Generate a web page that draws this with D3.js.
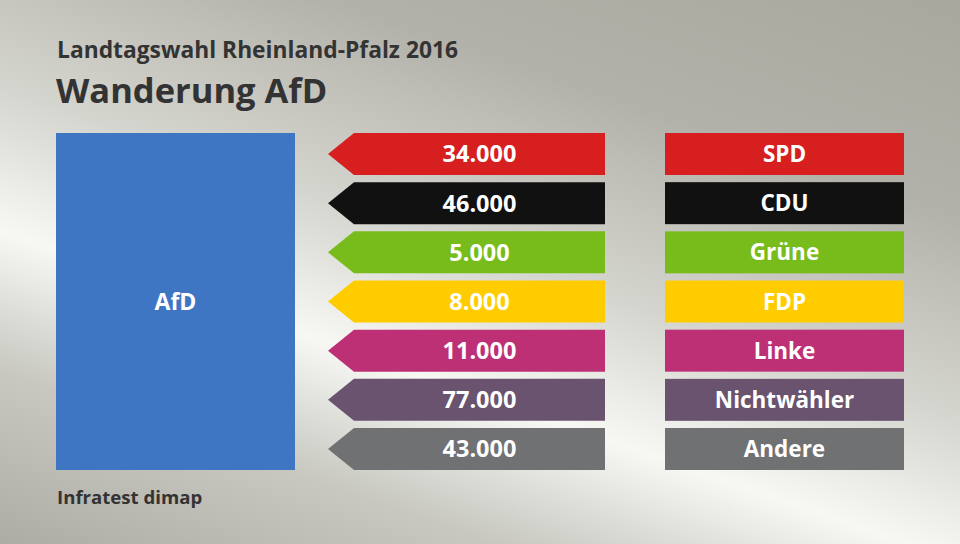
<!DOCTYPE html>
<html>
<head>
<meta charset="utf-8">
<script src="https://cdn.jsdelivr.net/npm/d3@7"></script>
<style>
  body { margin: 0; padding: 0; }
  svg { display: block; font-family: "Open Sans", "Noto Sans", sans-serif; }
</style>
</head>
<body>
<script>
var parties = ["SPD", "CDU", "Grüne", "FDP", "Linke", "Nichtwähler", "Andere"];
var values = [34000, 46000, 5000, 8000, 11000, 77000, 43000];
var colors = ["#d81f1f", "#111111", "#78bc1b", "#ffcc00", "#be3075", "#6a536f", "#707173"];
var target = "AfD";

var width = 960, height = 544;

var svg = d3.select("body").append("svg")
    .attr("width", width)
    .attr("height", height);

// diagonal light band across a grey background
var defs = svg.append("defs");
var grad = defs.append("linearGradient")
    .attr("id", "bg")
    .attr("gradientUnits", "userSpaceOnUse")
    .attr("x1", 337).attr("y1", 663)
    .attr("x2", 608).attr("y2", -121);
[[0, "#adaca4"], [0.2, "#c8c8c1"], [0.36, "#f7f7f4"], [0.52, "#d6d6d0"], [0.75, "#b3b2aa"], [1, "#a9a89f"]]
    .forEach(function (s) {
        grad.append("stop").attr("offset", s[0]).attr("stop-color", s[1]);
    });

svg.append("rect").attr("width", width).attr("height", height).attr("fill", "url(#bg)");

var fmt = d3.formatLocale({decimal: ",", thousands: ".", grouping: [3], currency: ["", "€"]}).format(",d");

var y = d3.scaleBand()
    .domain(parties)
    .range([133, 470])
    .paddingInner(0.146);

var bw = y.bandwidth();

// target box
svg.append("rect")
    .attr("x", 56).attr("y", 133)
    .attr("width", 239).attr("height", 337)
    .attr("fill", "#3e76c4");
svg.append("text")
    .attr("x", 56 + 239 / 2).attr("y", 302)
    .attr("dy", "0.36em")
    .attr("text-anchor", "middle")
    .attr("fill", "#fff")
    .attr("font-weight", "bold")
    .attr("font-size", 23)
    .text(target);

var tipX = 328, bodyX = 354, bodyEnd = 605;

var rows = svg.selectAll("g.row")
    .data(parties)
    .enter().append("g")
    .attr("class", "row")
    .attr("transform", function (d) { return "translate(0," + y(d) + ")"; });

rows.append("path")
    .attr("d", "M" + tipX + "," + bw / 2 + "L" + bodyX + ",0H" + bodyEnd + "V" + bw + "H" + bodyX + "Z")
    .attr("fill", function (d, i) { return colors[i]; });

rows.append("text")
    .attr("x", (bodyX + bodyEnd) / 2)
    .attr("y", bw / 2)
    .attr("dy", "0.36em")
    .attr("text-anchor", "middle")
    .attr("fill", "#fff")
    .attr("font-weight", "bold")
    .attr("font-size", 23.5)
    .text(function (d, i) { return fmt(values[i]); });

rows.append("rect")
    .attr("x", 665).attr("y", 0)
    .attr("width", 239).attr("height", bw)
    .attr("fill", function (d, i) { return colors[i]; });

rows.append("text")
    .attr("x", 665 + 239 / 2)
    .attr("y", bw / 2)
    .attr("dy", "0.36em")
    .attr("text-anchor", "middle")
    .attr("fill", "#fff")
    .attr("font-weight", "bold")
    .attr("font-size", 22.5)
    .text(function (d) { return d; });

// titles
svg.append("text")
    .attr("x", 57).attr("y", 58)
    .attr("fill", "#333")
    .attr("font-weight", "bold")
    .attr("font-size", 22.8)
    .text("Landtagswahl Rheinland-Pfalz 2016");

svg.append("text")
    .attr("x", 56).attr("y", 103)
    .attr("fill", "#333")
    .attr("font-weight", "bold")
    .attr("font-size", 34.5)
    .text("Wanderung AfD");

svg.append("text")
    .attr("x", 57).attr("y", 504)
    .attr("fill", "#333")
    .attr("font-weight", "bold")
    .attr("font-size", 18.6)
    .text("Infratest dimap");
</script>
</body>
</html>
